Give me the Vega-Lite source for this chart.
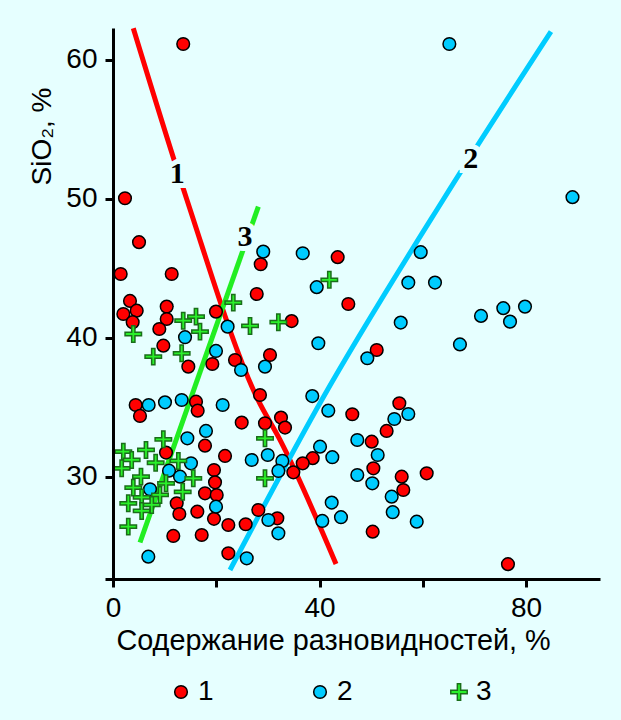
{
  "$schema": "https://vega.github.io/schema/vega-lite/v6.json",
  "width": 495,
  "height": 551,
  "autosize": {"type": "none"},
  "padding": {"left": 105, "top": 28, "right": 21, "bottom": 141},
  "background": "#e6ffff",
  "config": {
    "view": {"stroke": null},
    "font": "Liberation Sans",
    "legend": {"labelFontSize": 28, "labelColor": "#000", "labelFont": "Liberation Sans", "symbolSize": 160, "symbolStrokeWidth": 1.5, "labelOffset": 3, "columnPadding": 92, "padding": 0}
  },
  "datasets": {
    "pts": [
      {"type": "1", "x": 13.6, "y": 61.15}, {"type": "1", "x": 2.32, "y": 50.04}, {"type": "1", "x": 5.04, "y": 46.88},
      {"type": "1", "x": 1.49, "y": 44.59}, {"type": "1", "x": 11.37, "y": 44.59}, {"type": "1", "x": 3.29, "y": 42.65},
      {"type": "1", "x": 2.0, "y": 41.71}, {"type": "1", "x": 4.59, "y": 41.95}, {"type": "1", "x": 3.81, "y": 41.12},
      {"type": "1", "x": 10.4, "y": 42.24}, {"type": "1", "x": 10.4, "y": 41.35}, {"type": "1", "x": 8.97, "y": 40.63},
      {"type": "1", "x": 9.75, "y": 39.43}, {"type": "1", "x": 14.59, "y": 37.92}, {"type": "1", "x": 19.95, "y": 41.88},
      {"type": "1", "x": 19.24, "y": 38.11}, {"type": "1", "x": 23.63, "y": 38.4}, {"type": "1", "x": 27.84, "y": 43.15},
      {"type": "1", "x": 28.61, "y": 45.29}, {"type": "1", "x": 30.41, "y": 38.76}, {"type": "1", "x": 28.47, "y": 35.88},
      {"type": "1", "x": 34.6, "y": 41.2}, {"type": "1", "x": 43.52, "y": 45.8}, {"type": "1", "x": 45.58, "y": 42.43},
      {"type": "1", "x": 51.08, "y": 39.12}, {"type": "1", "x": 4.39, "y": 35.16}, {"type": "1", "x": 5.23, "y": 34.37},
      {"type": "1", "x": 16.08, "y": 35.4}, {"type": "1", "x": 16.4, "y": 34.75}, {"type": "1", "x": 24.93, "y": 33.89},
      {"type": "1", "x": 29.44, "y": 33.84}, {"type": "1", "x": 32.54, "y": 34.25}, {"type": "1", "x": 33.32, "y": 33.53},
      {"type": "1", "x": 17.82, "y": 32.23}, {"type": "1", "x": 21.7, "y": 31.49}, {"type": "1", "x": 10.27, "y": 31.73},
      {"type": "1", "x": 19.56, "y": 30.48}, {"type": "1", "x": 19.76, "y": 29.59}, {"type": "1", "x": 17.82, "y": 28.8},
      {"type": "1", "x": 20.09, "y": 28.68}, {"type": "1", "x": 12.34, "y": 28.08}, {"type": "1", "x": 12.85, "y": 27.31},
      {"type": "1", "x": 16.33, "y": 27.48}, {"type": "1", "x": 19.56, "y": 26.96}, {"type": "1", "x": 22.34, "y": 26.52},
      {"type": "1", "x": 25.7, "y": 26.57}, {"type": "1", "x": 28.15, "y": 27.6}, {"type": "1", "x": 31.83, "y": 27.0},
      {"type": "1", "x": 11.68, "y": 25.73}, {"type": "1", "x": 17.18, "y": 25.8}, {"type": "1", "x": 22.34, "y": 24.48},
      {"type": "1", "x": 46.35, "y": 34.49}, {"type": "1", "x": 55.46, "y": 35.28}, {"type": "1", "x": 53.0, "y": 33.29},
      {"type": "1", "x": 50.11, "y": 32.52}, {"type": "1", "x": 50.43, "y": 30.6}, {"type": "1", "x": 55.92, "y": 30.0},
      {"type": "1", "x": 56.23, "y": 29.04}, {"type": "1", "x": 60.76, "y": 30.24}, {"type": "1", "x": 50.3, "y": 26.04},
      {"type": "1", "x": 38.68, "y": 31.33}, {"type": "1", "x": 36.75, "y": 30.96}, {"type": "1", "x": 34.93, "y": 30.31},
      {"type": "1", "x": 76.5, "y": 23.7},
      {"type": "2", "x": 29.1, "y": 46.2}, {"type": "2", "x": 13.95, "y": 40.04}, {"type": "2", "x": 22.2, "y": 40.8},
      {"type": "2", "x": 19.95, "y": 39.05}, {"type": "2", "x": 24.8, "y": 37.68}, {"type": "2", "x": 29.44, "y": 37.92},
      {"type": "2", "x": 36.75, "y": 46.08}, {"type": "2", "x": 39.46, "y": 43.64}, {"type": "2", "x": 39.77, "y": 39.6},
      {"type": "2", "x": 59.6, "y": 46.16}, {"type": "2", "x": 57.2, "y": 43.97}, {"type": "2", "x": 62.37, "y": 43.97},
      {"type": "2", "x": 55.73, "y": 41.09}, {"type": "2", "x": 67.2, "y": 39.52}, {"type": "2", "x": 49.26, "y": 38.52},
      {"type": "2", "x": 38.6, "y": 35.8}, {"type": "2", "x": 65.15, "y": 61.15}, {"type": "2", "x": 89.0, "y": 50.12},
      {"type": "2", "x": 71.28, "y": 41.57}, {"type": "2", "x": 75.6, "y": 42.13}, {"type": "2", "x": 79.8, "y": 42.24},
      {"type": "2", "x": 76.9, "y": 41.16}, {"type": "2", "x": 6.91, "y": 35.16}, {"type": "2", "x": 10.07, "y": 35.35},
      {"type": "2", "x": 13.3, "y": 35.52}, {"type": "2", "x": 21.24, "y": 35.16}, {"type": "2", "x": 18.01, "y": 33.29},
      {"type": "2", "x": 14.4, "y": 32.76}, {"type": "2", "x": 15.1, "y": 30.96}, {"type": "2", "x": 10.85, "y": 30.43},
      {"type": "2", "x": 12.98, "y": 30.0}, {"type": "2", "x": 7.17, "y": 29.09}, {"type": "2", "x": 19.95, "y": 27.84},
      {"type": "2", "x": 26.87, "y": 31.2}, {"type": "2", "x": 29.97, "y": 31.56}, {"type": "2", "x": 32.8, "y": 31.13},
      {"type": "2", "x": 32.03, "y": 30.41}, {"type": "2", "x": 30.09, "y": 26.88}, {"type": "2", "x": 32.03, "y": 25.92},
      {"type": "2", "x": 25.9, "y": 24.12}, {"type": "2", "x": 6.84, "y": 24.24}, {"type": "2", "x": 41.7, "y": 34.75},
      {"type": "2", "x": 57.2, "y": 34.51}, {"type": "2", "x": 54.49, "y": 34.15}, {"type": "2", "x": 47.32, "y": 32.64},
      {"type": "2", "x": 51.27, "y": 31.56}, {"type": "2", "x": 47.32, "y": 30.12}, {"type": "2", "x": 50.23, "y": 29.52},
      {"type": "2", "x": 53.98, "y": 28.56}, {"type": "2", "x": 54.18, "y": 27.44}, {"type": "2", "x": 58.83, "y": 26.76},
      {"type": "2", "x": 42.36, "y": 28.13}, {"type": "2", "x": 44.16, "y": 27.08}, {"type": "2", "x": 40.54, "y": 26.81},
      {"type": "2", "x": 40.1, "y": 32.16}, {"type": "2", "x": 42.48, "y": 31.4},
      {"type": "3", "x": 3.93, "y": 40.27}, {"type": "3", "x": 7.8, "y": 38.64}, {"type": "3", "x": 13.3, "y": 38.88},
      {"type": "3", "x": 13.6, "y": 41.23}, {"type": "3", "x": 16.08, "y": 41.52}, {"type": "3", "x": 16.85, "y": 40.44},
      {"type": "3", "x": 23.3, "y": 42.53}, {"type": "3", "x": 26.54, "y": 40.85}, {"type": "3", "x": 32.03, "y": 41.12},
      {"type": "3", "x": 41.9, "y": 44.17}, {"type": "3", "x": 2.0, "y": 31.8}, {"type": "3", "x": 3.62, "y": 31.2},
      {"type": "3", "x": 1.68, "y": 30.6}, {"type": "3", "x": 6.39, "y": 31.92}, {"type": "3", "x": 8.26, "y": 31.0},
      {"type": "3", "x": 9.75, "y": 32.69}, {"type": "3", "x": 5.42, "y": 30.0}, {"type": "3", "x": 12.66, "y": 31.13},
      {"type": "3", "x": 3.93, "y": 29.21}, {"type": "3", "x": 10.27, "y": 29.52}, {"type": "3", "x": 5.55, "y": 28.5},
      {"type": "3", "x": 9.1, "y": 28.68}, {"type": "3", "x": 2.96, "y": 28.08}, {"type": "3", "x": 7.5, "y": 27.96},
      {"type": "3", "x": 5.55, "y": 27.53}, {"type": "3", "x": 13.5, "y": 28.91}, {"type": "3", "x": 15.55, "y": 29.88},
      {"type": "3", "x": 2.96, "y": 26.4}, {"type": "3", "x": 29.44, "y": 32.76}, {"type": "3", "x": 29.44, "y": 29.88}
    ],
    "lines": [
      {"line": "1", "x": 3.93, "y": 62.28}, {"line": "1", "x": 14.33, "y": 49.92}, {"line": "1", "x": 28.09, "y": 35.52},
      {"line": "1", "x": 32.35, "y": 32.64}, {"line": "1", "x": 43.2, "y": 23.71},
      {"line": "2", "x": 22.66, "y": 23.28}, {"line": "2", "x": 40.43, "y": 35.52}, {"line": "2", "x": 63.92, "y": 49.92},
      {"line": "2", "x": 84.84, "y": 62.04},
      {"line": "3", "x": 5.23, "y": 25.26}, {"line": "3", "x": 28.15, "y": 49.44}
    ],
    "labels": [
      {"lbl": "1", "x": 12.46, "y": 51.79},
      {"lbl": "2", "x": 69.29, "y": 52.85},
      {"lbl": "3", "x": 25.57, "y": 47.24}
    ]
  },
  "encoding": {
    "x": {
      "field": "x", "type": "quantitative",
      "scale": {"domain": [-1.55, 94.33], "nice": false, "zero": false},
      "axis": {
        "title": "Содержание разновидностей, %",
        "values": [0, 20, 40, 60, 80],
        "labelExpr": "datum.value % 40 == 0 ? datum.label : ''",
        "grid": false, "domainColor": "#000", "domainWidth": 3, "tickColor": "#000", "tickWidth": 3, "tickSize": 8,
        "labelFontSize": 28, "labelColor": "#000", "labelPadding": 7, "labelFont": "Liberation Sans",
        "titleFontSize": 28.8, "titleFontWeight": "normal", "titleColor": "#000", "titleFont": "Liberation Sans",
        "titleBaseline": "alphabetic", "titleX": 228, "titleY": 70, "zindex": 1
      }
    },
    "y": {
      "field": "y", "type": "quantitative",
      "scale": {"domain": [22.63, 62.3], "nice": false, "zero": false},
      "axis": {
        "title": "SiO₂, %",
        "values": [30, 40, 50, 60],
        "offset": -8,
        "grid": false, "domainColor": "#000", "domainWidth": 3, "tickColor": "#000", "tickWidth": 3, "tickSize": 8,
        "labelFontSize": 28, "labelColor": "#000", "labelPadding": 8, "labelFont": "Liberation Sans",
        "titleFontSize": 28, "titleFontWeight": "normal", "titleColor": "#000", "titleFont": "Liberation Sans",
        "titleBaseline": "alphabetic", "titleX": -63, "titleY": 108, "zindex": 1
      }
    }
  },
  "layer": [
    {
      "data": {"name": "lines"},
      "transform": [{"filter": "datum.line == '1'"}],
      "mark": {"type": "line", "strokeWidth": 5, "interpolate": "monotone", "strokeCap": "butt", "color": "#ff0000"},
      "encoding": {}
    },
    {
      "data": {"name": "lines"},
      "transform": [{"filter": "datum.line == '2'"}],
      "mark": {"type": "line", "strokeWidth": 5, "interpolate": "monotone", "strokeCap": "butt", "color": "#00ccff"},
      "encoding": {}
    },
    {
      "data": {"name": "lines"},
      "transform": [{"filter": "datum.line == '3'"}],
      "mark": {"type": "line", "strokeWidth": 5, "interpolate": "monotone", "strokeCap": "butt", "color": "#22ee22"},
      "encoding": {}
    },
    {
      "data": {"name": "labels"},
      "mark": {"type": "text", "font": "Liberation Serif", "fontWeight": "bold", "fontSize": 30, "stroke": "#e6ffff", "strokeWidth": 10, "fill": "#e6ffff", "align": "center", "baseline": "middle"},
      "encoding": {"text": {"field": "lbl"}}
    },
    {
      "data": {"name": "labels"},
      "mark": {"type": "text", "font": "Liberation Serif", "fontWeight": "bold", "fontSize": 30, "fill": "#000000", "align": "center", "baseline": "middle"},
      "encoding": {"text": {"field": "lbl"}}
    },
    {
      "data": {"name": "pts"},
      "mark": {"type": "point", "filled": true, "size": 160, "strokeWidth": 1.5, "opacity": 1},
      "encoding": {
        "shape": {"field": "type", "type": "nominal",
          "scale": {"domain": ["1", "2", "3"], "range": ["circle", "circle", "M-0.26,-1.3H0.26V-0.26H1.3V0.26H0.26V1.3H-0.26V0.26H-1.3V-0.26H-0.26Z"]},
          "legend": {"orient": "none", "legendX": 62, "legendY": 650, "direction": "horizontal", "title": null}},
        "fill": {"field": "type", "type": "nominal",
          "scale": {"domain": ["1", "2", "3"], "range": ["#ff0000", "#00ccff", "#2af02a"]},
          "legend": {"orient": "none", "legendX": 62, "legendY": 650, "direction": "horizontal", "title": null}},
        "stroke": {"field": "type", "type": "nominal",
          "scale": {"domain": ["1", "2", "3"], "range": ["#000000", "#000000", "#1a6e1a"]},
          "legend": {"orient": "none", "legendX": 62, "legendY": 650, "direction": "horizontal", "title": null}}
      }
    }
  ]
}
